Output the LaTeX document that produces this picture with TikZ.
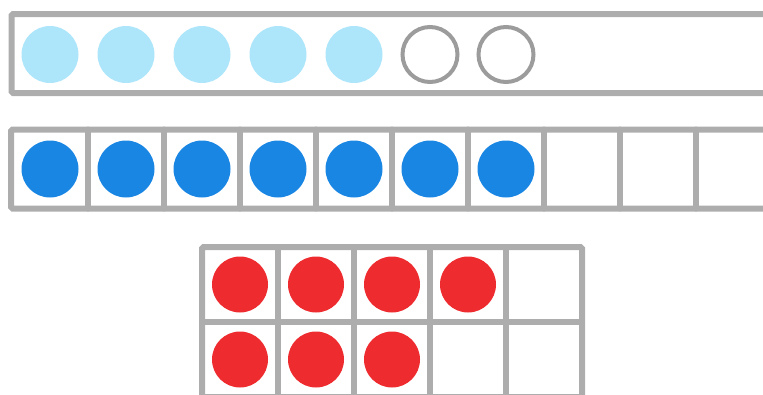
\documentclass[tikz,border=0pt]{standalone}
\usepackage{tikz}
\definecolor{framegray}{HTML}{ADADAD}
\definecolor{ringgray}{HTML}{9C9C9C}
\definecolor{paleblue}{HTML}{ADE5FB}
\definecolor{dotblue}{HTML}{1A86E3}
\definecolor{dotred}{HTML}{EE2B2E}
\tikzset{frame/.style={line width=6pt,draw=framegray,rounded corners=1.5pt,line cap=round},
counter/.style={circle,inner sep=0pt,minimum size=57pt},
pale/.style={counter,fill=paleblue},
ring/.style={circle,inner sep=0pt,minimum size=55pt,draw=ringgray,line width=4pt},
full/.style={counter,fill=dotblue},
red/.style={counter,minimum size=56pt,fill=dotred}}

\begin{document}
\begin{tikzpicture}[x=1pt,y=-1pt]
\useasboundingbox (0,0) rectangle (763,394);
\clip (0,0) rectangle (763,394);
\draw[frame] (790,14)--(11.5,14)--(11.5,93)--(790,93);
\foreach \i in {1,...,5}{\node[pale] (light\i) at (50+76*\i-76,54.5) {};}
\foreach \i in {6,7}{\node[ring] (empty\i) at (50+76*\i-76,54.5) {};}
\draw[frame] (790,129.5)--(11,129.5)--(11,208.5)--(790,208.5);
\foreach \k in {1,...,9}{\draw[frame] (12+76*\k,129.5)--(12+76*\k,208.5);}
\foreach \i in {1,...,7}{\node[full] (blue\i) at (50+76*\i-76,169) {};}
\draw[frame] (202,247) rectangle (582,420);
\draw[frame] (202,322)--(582,322);
\draw[frame] (202,397)--(582,397);
\foreach \k in {1,...,4}{\draw[frame] (202+76*\k,247)--(202+76*\k,420);}
\foreach \i in {1,...,4}{\node[red] (redtop\i) at (240+76*\i-76,284.5) {};}
\foreach \i in {1,...,3}{\node[red] (redbot\i) at (240+76*\i-76,359.5) {};}
\end{tikzpicture}
\end{document}
